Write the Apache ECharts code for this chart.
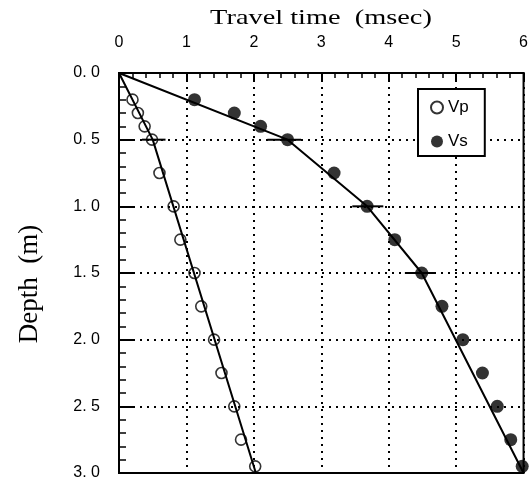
<!DOCTYPE html>
<html>
<head>
<meta charset="utf-8">
<title>Travel time vs depth</title>
<script src="https://cdn.jsdelivr.net/npm/echarts@6/dist/echarts.min.js"></script>
<style>
  html, body { margin: 0; padding: 0; background: #fff; }
  #chart { width: 531px; height: 482px; }
</style>
</head>
<body>
<div id="chart"></div>
<script>
// picked off the plot by eye
var depths = [0.2, 0.3, 0.4, 0.5, 0.75, 1.0, 1.25, 1.5, 1.75, 2.0, 2.25, 2.5, 2.75, 2.95];
var vpTimes = [0.20, 0.28, 0.38, 0.49, 0.60, 0.81, 0.91, 1.12, 1.22, 1.41, 1.52, 1.71, 1.81, 2.02];
var vsTimes = [1.12, 1.71, 2.10, 2.50, 3.19, 3.68, 4.09, 4.49, 4.79, 5.10, 5.39, 5.61, 5.81, 5.98];

// fitted travel time curves: [time, depth]
var vpFit = [[0, 0], [0.5, 0.5], [2.03, 3.0]];
var vsFit = [[0, 0], [2.5, 0.5], [3.68, 1.0], [4.49, 1.5], [6.0, 3.0]];

// short horizontal marks at layer boundaries: [from, to, depth]
var boundaries = [[0.34, 0.69, 0.5], [2.2, 2.7, 0.5], [3.46, 3.92, 1.0], [4.24, 4.7, 1.5]];

var timeLabels = ['0', '1', '2', '3', '4', '5', '6'];
var depthLabels = ['0. 0', '0. 5', '1. 0', '1. 5', '2. 0', '2. 5', '3. 0'];

function pairs(xs) {
  return xs.map(function (t, i) { return [t, depths[i]]; });
}

var chart = echarts.init(document.getElementById('chart'));

var series = [
  {
    name: 'Vp fit', type: 'line', data: vpFit, showSymbol: false, silent: true,
    lineStyle: { color: '#000', width: 2 }, z: 3
  },
  {
    name: 'Vs fit', type: 'line', data: vsFit, showSymbol: false, silent: true,
    lineStyle: { color: '#000', width: 2 }, z: 3
  },
  {
    name: 'Vp', type: 'scatter', data: pairs(vpTimes), symbol: 'circle', symbolSize: 11,
    clip: false,
    itemStyle: { color: 'rgba(255,255,255,0)', borderColor: '#000', borderWidth: 1.6 }, z: 4
  },
  {
    name: 'Vs', type: 'scatter', data: pairs(vsTimes), symbol: 'circle', symbolSize: 13,
    clip: false,
    itemStyle: { color: '#000' }, z: 4
  }
];

boundaries.forEach(function (b) {
  series.push({
    type: 'line', data: [[b[0], b[2]], [b[1], b[2]]], showSymbol: false, silent: true,
    lineStyle: { color: '#000', width: 2 }, z: 3
  });
});

chart.setOption({
  animation: false,
  backgroundColor: '#fff',
  grid: {
    left: 119, top: 73, right: 4, bottom: 9,
    show: true, borderColor: '#000', borderWidth: 2, backgroundColor: 'transparent'
  },
  legend: {
    data: ['Vp', 'Vs'],
    orient: 'vertical',
    left: 418, top: 89,
    padding: [10, 16, 6, 12],
    itemWidth: 12, itemHeight: 12, itemGap: 17,
    backgroundColor: '#fff',
    borderColor: '#000', borderWidth: 2, borderRadius: 0,
    textStyle: { fontFamily: 'Liberation Sans', fontSize: 17, color: '#000' }
  },
  xAxis: {
    type: 'value', position: 'top', min: 0, max: 6, interval: 1,
    axisLine: { show: true, onZero: false, lineStyle: { color: '#000', width: 2 } },
    axisTick: { show: true, inside: true, length: 9, lineStyle: { color: '#000', width: 2 } },
    minorTick: { show: true, splitNumber: 5, length: 5, lineStyle: { color: '#000', width: 1.5 } },
    axisLabel: {
      margin: 22, fontFamily: 'Liberation Sans', fontSize: 16, color: '#000',
      formatter: function (v) { return timeLabels[Math.round(v)]; }
    },
    splitLine: { show: true, lineStyle: { color: '#000', width: 2, type: [2, 5] } }
  },
  yAxis: {
    type: 'value', inverse: true, min: 0, max: 3, interval: 0.5,
    axisLine: { show: true, onZero: false, lineStyle: { color: '#000', width: 2 } },
    axisTick: { show: true, inside: true, length: 16, lineStyle: { color: '#000', width: 2 } },
    minorTick: { show: true, splitNumber: 5, length: 7, lineStyle: { color: '#000', width: 1.5 } },
    axisLabel: {
      margin: 19, fontFamily: 'Liberation Sans', fontSize: 16, color: '#000',
      formatter: function (v) { return depthLabels[Math.round(v * 2)]; }
    },
    splitLine: { show: true, lineStyle: { color: '#000', width: 2, type: [2, 5] } }
  },
  graphic: [
    {
      type: 'text', x: 321, y: 18, scaleX: 1.35,
      style: {
        text: 'Travel time  (msec)', fill: '#000',
        font: '21px "Liberation Serif"', align: 'center', verticalAlign: 'middle'
      }
    },
    {
      type: 'text', x: 30, y: 284, rotation: Math.PI / 2,
      style: {
        text: 'Depth  (m)', fill: '#000',
        font: '27px "Liberation Serif"', align: 'center', verticalAlign: 'middle'
      }
    }
  ],
  series: series
});
</script>
</body>
</html>
